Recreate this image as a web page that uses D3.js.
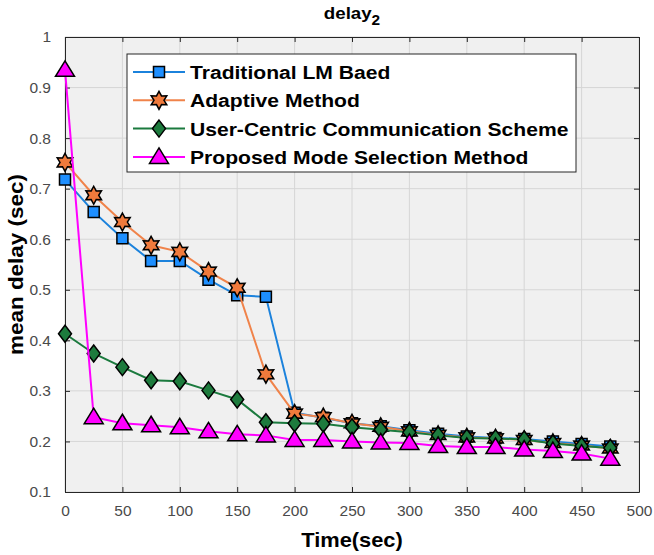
<!DOCTYPE html>
<html>
<head>
<meta charset="utf-8">
<script src="https://cdn.jsdelivr.net/npm/d3@7"></script>
<style>
  html, body { margin: 0; padding: 0; background: #fff; }
  svg { display: block; font-family: "Liberation Sans", Arial, sans-serif; }
  .tick text { fill: #4a4a4a; font-size: 15.5px; }
</style>
</head>
<body>
<div id="chart"></div>
<script>
const W = 654, H = 555;
const M = { top: 37, right: 15, bottom: 63, left: 65 };

const times = [0, 25, 50, 75, 100, 125, 150, 175, 200, 225, 250, 275, 300, 325, 350, 375, 400, 425, 450, 475];
const traditional = [0.718, 0.654, 0.602, 0.557, 0.557, 0.52, 0.489, 0.486, 0.257, 0.247, 0.236, 0.23, 0.222, 0.215, 0.21, 0.207, 0.205, 0.2, 0.195, 0.19];
const adaptive = [0.752, 0.687, 0.634, 0.588, 0.575, 0.536, 0.504, 0.333, 0.255, 0.248, 0.236, 0.229, 0.22, 0.213, 0.208, 0.206, 0.203, 0.197, 0.192, 0.186];
const userCentric = [0.413, 0.374, 0.347, 0.321, 0.319, 0.301, 0.283, 0.238, 0.236, 0.235, 0.228, 0.223, 0.218, 0.212, 0.207, 0.206, 0.204, 0.196, 0.191, 0.187];
const proposed = [0.935, 0.248, 0.236, 0.232, 0.228, 0.22, 0.214, 0.212, 0.203, 0.203, 0.2, 0.198, 0.197, 0.191, 0.189, 0.189, 0.184, 0.181, 0.176, 0.166];

const xTicks = [0, 50, 100, 150, 200, 250, 300, 350, 400, 450, 500];
const yTicks = [0.1, 0.2, 0.3, 0.4, 0.5, 0.6, 0.7, 0.8, 0.9, 1];

const series = [
  { name: 'Traditional LM Baed', values: traditional, line: '#1b82dc', face: '#1e8fff', marker: 'square' },
  { name: 'Adaptive Method', values: adaptive, line: '#f0834a', face: '#f07a3c', marker: 'hexagram' },
  { name: 'User-Centric Communication Scheme', values: userCentric, line: '#1b7a3e', face: '#1d7b3d', marker: 'diamond' },
  { name: 'Proposed Mode Selection Method', values: proposed, line: '#ff00ff', face: '#ff00ff', marker: 'triangle' },
];

function markerPath(type) {
  if (type === 'square') return 'M-5.5,-5.5H5.5V5.5H-5.5Z';
  if (type === 'diamond') return 'M0,-8.5L6.5,0L0,8.5L-6.5,0Z';
  if (type === 'triangle') return 'M0,-9L9.5,6.5L-9.5,6.5Z';
  // six-pointed star
  const pts = [];
  for (let i = 0; i < 12; i++) {
    const r = i % 2 === 0 ? 9 : 5;
    const a = -Math.PI / 2 + i * Math.PI / 6;
    pts.push([r * Math.cos(a), r * Math.sin(a)]);
  }
  return 'M' + pts.map(p => p[0].toFixed(2) + ',' + p[1].toFixed(2)).join('L') + 'Z';
}

const svg = d3.select('#chart').append('svg').attr('width', W).attr('height', H);
const innerW = W - M.left - M.right;
const innerH = H - M.top - M.bottom;
const g = svg.append('g').attr('transform', `translate(${M.left},${M.top})`);

const x = d3.scaleLinear().domain([0, 500]).range([0, innerW]);
const y = d3.scaleLinear().domain([0.1, 1]).range([innerH, 0]);

g.append('rect').attr('width', innerW).attr('height', innerH).attr('fill', '#f0f0f0');

// Grid
g.append('g').selectAll('line').data(xTicks).join('line')
  .attr('x1', d => x(d)).attr('x2', d => x(d)).attr('y1', 0).attr('y2', innerH)
  .attr('stroke', '#d6d6d6').attr('stroke-width', 1);
g.append('g').selectAll('line').data(yTicks).join('line')
  .attr('y1', d => y(d)).attr('y2', d => y(d)).attr('x1', 0).attr('x2', innerW)
  .attr('stroke', '#d6d6d6').attr('stroke-width', 1);

// Axes with inward ticks
const fmtY = d => d3.format('~g')(d);
const dark = a => {
  a.select('.domain').attr('stroke', '#262626');
  a.selectAll('.tick line').attr('stroke', '#262626');
};
g.append('g').attr('transform', `translate(0,${innerH})`)
  .call(d3.axisBottom(x).tickValues(xTicks).tickSizeInner(-5).tickSizeOuter(0).tickPadding(13))
  .call(dark);
g.append('g')
  .call(d3.axisTop(x).tickValues(xTicks).tickSizeInner(-5).tickSizeOuter(0).tickFormat(''))
  .call(dark);
g.append('g')
  .call(d3.axisLeft(y).tickValues(yTicks).tickFormat(fmtY).tickSizeInner(-5).tickSizeOuter(0).tickPadding(14))
  .call(dark);
g.append('g').attr('transform', `translate(${innerW},0)`)
  .call(d3.axisRight(y).tickValues(yTicks).tickSizeInner(-5).tickSizeOuter(0).tickFormat(''))
  .call(dark);

// Series
const line = d3.line().x(d => x(d.t)).y(d => y(d.v));
for (const s of series) {
  const pts = times.map((t, i) => ({ t, v: s.values[i] }));
  g.append('path').datum(pts).attr('d', line)
    .attr('fill', 'none').attr('stroke', s.line).attr('stroke-width', 2);
  g.append('g').selectAll('path').data(pts).join('path')
    .attr('transform', d => `translate(${x(d.t)},${y(d.v)})`)
    .attr('d', markerPath(s.marker))
    .attr('fill', s.face).attr('stroke', '#000').attr('stroke-width', 1.5);
}

// Legend
const lg = svg.append('g').attr('transform', 'translate(127,54)');
lg.append('rect').attr('width', 449).attr('height', 118)
  .attr('fill', '#fff').attr('stroke', '#262626').attr('stroke-width', 1);
series.forEach((s, i) => {
  const cy = 18 + i * 28.3;
  lg.append('line').attr('x1', 6).attr('x2', 58).attr('y1', cy).attr('y2', cy)
    .attr('stroke', s.line).attr('stroke-width', 2);
  lg.append('path').attr('transform', `translate(32,${cy})`).attr('d', markerPath(s.marker))
    .attr('fill', s.face).attr('stroke', '#000').attr('stroke-width', 1.5);
  lg.append('text').attr('transform', `translate(63,${cy + 7}) scale(1.11,1)`)
    .attr('font-size', 19).attr('font-weight', 'bold').attr('fill', '#000')
    .text(s.name);
});

// Title and axis labels
const title = svg.append('text').attr('transform', `translate(${M.left + innerW / 2},19) scale(1.1,1)`)
  .attr('text-anchor', 'middle').attr('font-size', 17).attr('font-weight', 'bold').attr('fill', '#000');
title.append('tspan').text('delay');
title.append('tspan').attr('dy', 6).attr('font-size', 14).text('2');

svg.append('text').attr('transform', `translate(${M.left + innerW / 2},547) scale(1.04,1)`)
  .attr('text-anchor', 'middle').attr('font-size', 21).attr('font-weight', 'bold').attr('fill', '#000')
  .text('Time(sec)');

svg.append('text').attr('transform', `translate(23,${M.top + innerH / 2}) rotate(-90)`)
  .attr('text-anchor', 'middle').attr('font-size', 21).attr('font-weight', 'bold').attr('fill', '#000')
  .attr('textLength', 181).attr('lengthAdjust', 'spacingAndGlyphs')
  .text('mean delay (sec)');
</script>
</body>
</html>
